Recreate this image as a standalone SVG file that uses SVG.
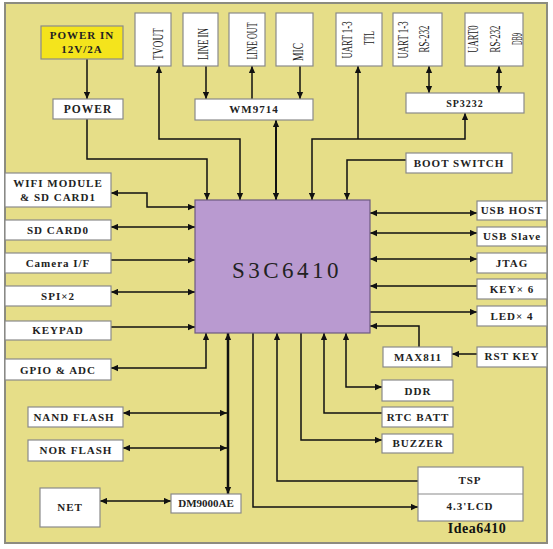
<svg xmlns="http://www.w3.org/2000/svg" width="553" height="549" viewBox="0 0 553 549">
<defs>
<marker id="ar" viewBox="0 0 10 10" refX="10" refY="5" markerWidth="8" markerHeight="7" markerUnits="userSpaceOnUse" orient="auto-start-reverse">
<path d="M0,0.5 L10,5 L0,9.5 z" fill="#111"/>
</marker>
</defs>
<style>
.bx{fill:#ffffff;stroke:#8a8a8a;stroke-width:1.2}
.t{font-family:"Liberation Serif","Times New Roman",serif;font-weight:bold;font-size:11px;letter-spacing:1px;fill:#222;text-anchor:middle}
.v{font-family:"Liberation Serif","Times New Roman",serif;font-size:14px;fill:#222;text-anchor:middle}
.c{fill:none;stroke:#111;stroke-width:1.5}
.e{marker-end:url(#ar)}
.s{marker-start:url(#ar)}
</style>
<rect x="5" y="3" width="542" height="540" fill="#e6de88" stroke="#8c8c80" stroke-width="2"/>

<g id="connectors">
<path class="c e" d="M87,59 V99"/>
<path class="c e" d="M87,119 V159 H207 V200"/>
<path class="c s e" d="M240,200 V139 H159 V66"/>
<path class="c e" d="M206,66 V99"/>
<path class="c e" d="M252,99 V66"/>
<path class="c e" d="M300,66 V99"/>
<path class="c s e" d="M276,120 V200" style="stroke-width:2"/>
<path class="c s e" d="M312,200 V139 H465 V113"/>
<path class="c e" d="M358,139 V66"/>
<path class="c s e" d="M429,66 V93"/>
<path class="c s e" d="M499,66 V93"/>
<path class="c e" d="M406,160 H347 V200"/>
<path class="c s e" d="M111,193 H147 V207 H195"/>
<path class="c s e" d="M111,227 H195"/>
<path class="c e" d="M111,260 H195"/>
<path class="c s e" d="M111,292 H195"/>
<path class="c e" d="M111,327 H195"/>
<path class="c s e" d="M111,368 H206 V333"/>
<path class="c s e" d="M228,333 V494" style="stroke-width:2.5"/>
<path class="c s e" d="M123,413 H227"/>
<path class="c s e" d="M123,448 H227"/>
<path class="c s e" d="M100,501 H171"/>
<path class="c e" d="M253,333 V507 H418"/>
<path class="c e" d="M418,481 H277 V333"/>
<path class="c e" d="M301,333 V440 H382"/>
<path class="c e" d="M382,413 H324 V333"/>
<path class="c s e" d="M346,333 V387 H382"/>
<path class="c s e" d="M370,213 H477"/>
<path class="c s e" d="M370,233 H477"/>
<path class="c s e" d="M370,259 H477"/>
<path class="c e" d="M477,286 H370"/>
<path class="c e" d="M370,312 H477"/>
<path class="c e" d="M419,347 V326 H370"/>
<path class="c e" d="M477,354 H452"/>
</g>

<g id="chip">
<rect x="195" y="200" width="175" height="133" fill="#b99ad0" stroke="#6d5a80" stroke-width="1.2"/>
<text x="287" y="278" style="font-family:'Liberation Serif','Times New Roman',serif;font-size:23px;letter-spacing:3.5px;fill:#222;text-anchor:middle">S3C6410</text>
</g>

<g id="power-in"><rect x="41" y="26" width="82" height="33" fill="#f4e41c" stroke="#8a8a8a" stroke-width="1.2"/>
<text class="t" x="82" y="39">POWER IN</text><text class="t" x="82" y="53">12V/2A</text></g>
<g id="power"><rect class="bx" x="53" y="99" width="70" height="20"/><text class="t" x="88" y="113" style="font-size:11.5px">POWER</text></g>

<g id="tvout"><rect class="bx" x="135" y="13" width="36" height="53"/><text class="v" transform="translate(163,44) rotate(-90) scale(0.675,1)">TVOUT</text></g>
<g id="linein"><rect class="bx" x="183" y="13" width="35" height="53"/><text class="v" transform="translate(208,44) rotate(-90) scale(0.64,1)">LINE IN</text></g>
<g id="lineout"><rect class="bx" x="229" y="13" width="36" height="53"/><text class="v" transform="translate(257,41) rotate(-90) scale(0.58,1)">LINE OUT</text></g>
<g id="mic"><rect class="bx" x="276" y="13" width="37" height="53"/><text class="v" transform="translate(303,52) rotate(-90) scale(0.68,1)">MIC</text></g>
<g id="uart-ttl"><rect class="bx" x="336" y="13" width="46" height="53"/>
<text class="v" transform="translate(352,40) rotate(-90) scale(0.63,1)">UART 1-3</text>
<text class="v" transform="translate(374,38) rotate(-90) scale(0.545,1)">TTL</text></g>
<g id="uart-rs232"><rect class="bx" x="393" y="13" width="49" height="53"/>
<text class="v" transform="translate(408,40) rotate(-90) scale(0.63,1)">UART 1-3</text>
<text class="v" transform="translate(429,39) rotate(-90) scale(0.63,1)">RS-232</text></g>
<g id="uart0"><rect class="bx" x="465" y="13" width="58" height="53"/>
<text class="v" transform="translate(478,39) rotate(-90) scale(0.62,1)">UART0</text>
<text class="v" transform="translate(500,39) rotate(-90) scale(0.63,1)">RS-232</text>
<text class="v" transform="translate(522,39) rotate(-90) scale(0.45,1)">DB9</text></g>

<g id="wm9714"><rect class="bx" x="195" y="99" width="118" height="21"/><text class="t" x="254" y="113">WM9714</text></g>
<g id="sp3232"><rect class="bx" x="406" y="93" width="118" height="20"/><text class="t" x="465" y="107" style="font-size:10px">SP3232</text></g>
<g id="boot"><rect class="bx" x="406" y="153" width="106" height="20"/><text class="t" x="459" y="167">BOOT SWITCH</text></g>

<g id="wifi"><rect class="bx" x="5" y="173" width="106" height="34"/><text class="t" x="58" y="187">WIFI MODULE</text><text class="t" x="58" y="201">&amp; SD CARD1</text></g>
<g id="sdcard0"><rect class="bx" x="5" y="220" width="106" height="20"/><text class="t" x="58" y="234">SD CARD0</text></g>
<g id="camera"><rect class="bx" x="5" y="253" width="106" height="20"/><text class="t" x="58" y="267">Camera I/F</text></g>
<g id="spi"><rect class="bx" x="5" y="286" width="106" height="20"/><text class="t" x="58" y="300">SPI×2</text></g>
<g id="keypad"><rect class="bx" x="5" y="321" width="106" height="19"/><text class="t" x="58" y="334">KEYPAD</text></g>
<g id="gpio"><rect class="bx" x="5" y="359" width="106" height="21"/><text class="t" x="58" y="374">GPIO &amp; ADC</text></g>

<g id="nand"><rect class="bx" x="28" y="407" width="95" height="20"/><text class="t" x="74" y="421">NAND FLASH</text></g>
<g id="nor"><rect class="bx" x="28" y="440" width="95" height="21"/><text class="t" x="76" y="454">NOR FLASH</text></g>
<g id="net"><rect class="bx" x="40" y="488" width="60" height="39"/><text class="t" x="70" y="511">NET</text></g>
<g id="dm9000"><rect class="bx" x="171" y="494" width="70" height="19"/><text class="t" x="206" y="507" style="letter-spacing:0">DM9000AE</text></g>

<g id="usbhost"><rect class="bx" x="477" y="201" width="70" height="19"/><text class="t" x="512" y="214">USB HOST</text></g>
<g id="usbslave"><rect class="bx" x="477" y="227" width="70" height="19"/><text class="t" x="512" y="240">USB Slave</text></g>
<g id="jtag"><rect class="bx" x="477" y="253" width="70" height="20"/><text class="t" x="512" y="267">JTAG</text></g>
<g id="key6"><rect class="bx" x="477" y="279" width="70" height="20"/><text class="t" x="512" y="293">KEY× 6</text></g>
<g id="led4"><rect class="bx" x="477" y="306" width="70" height="20"/><text class="t" x="512" y="320">LED× 4</text></g>
<g id="max811"><rect class="bx" x="383" y="347" width="69" height="20"/><text class="t" x="418" y="361">MAX811</text></g>
<g id="rstkey"><rect class="bx" x="477" y="347" width="70" height="20"/><text class="t" x="512" y="360">RST KEY</text></g>
<g id="ddr"><rect class="bx" x="382" y="380" width="71" height="21"/><text class="t" x="418" y="395">DDR</text></g>
<g id="rtc"><rect class="bx" x="382" y="407" width="71" height="20"/><text class="t" x="418" y="421">RTC BATT</text></g>
<g id="buzzer"><rect class="bx" x="382" y="434" width="71" height="19"/><text class="t" x="418" y="447">BUZZER</text></g>
<g id="lcd"><rect class="bx" x="418" y="467" width="105" height="54"/><line x1="418" y1="494" x2="523" y2="494" stroke="#8a8a8a" stroke-width="1.2"/>
<text class="t" x="470" y="484">TSP</text><text class="t" x="470" y="510">4.3'LCD</text></g>
<text id="label" x="477" y="533" style="font-family:'Liberation Serif','Times New Roman',serif;font-weight:bold;font-size:14px;letter-spacing:0.5px;fill:#111;text-anchor:middle">Idea6410</text>
</svg>
